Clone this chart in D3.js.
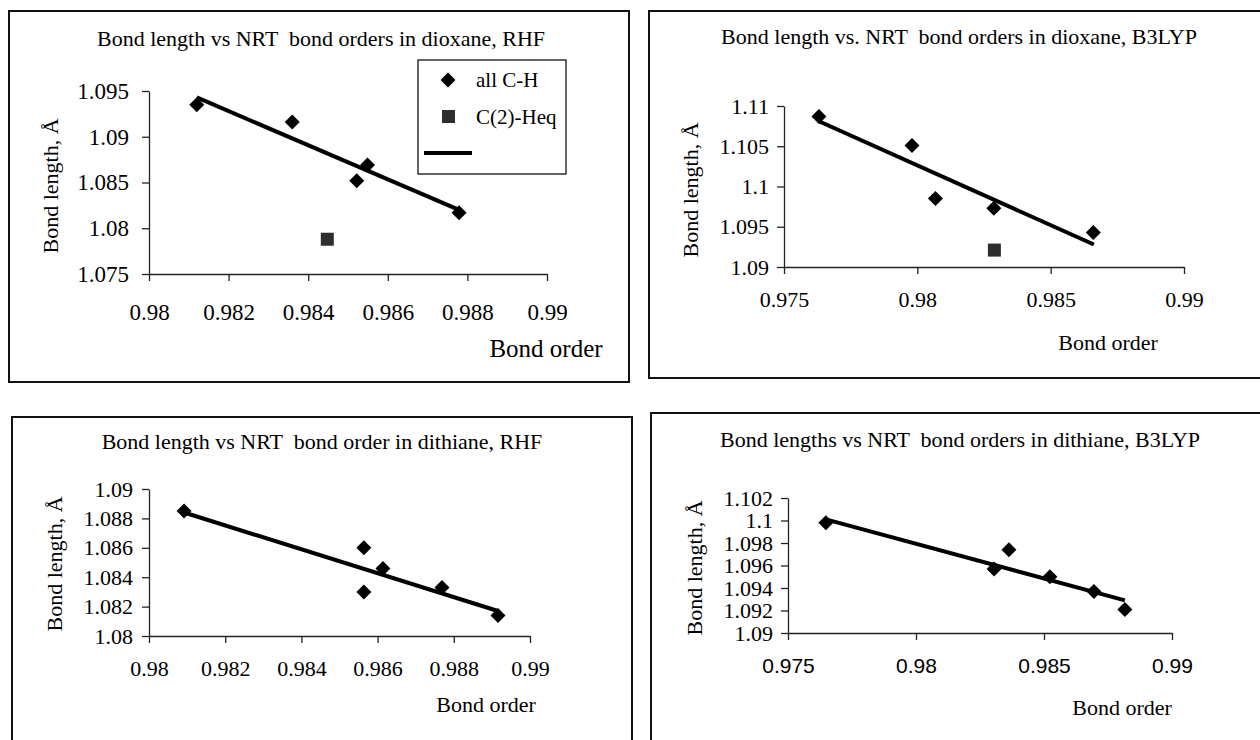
<!DOCTYPE html>
<html lang="en">
<head>
<meta charset="UTF-8">
<title>Bond length vs NRT bond orders</title>
<script src="https://cdn.jsdelivr.net/npm/d3@7"></script>
<style>
  body { margin: 0; background: #fff; }
  svg text { font-family: "Liberation Serif", "Times New Roman", serif; fill: #000; }
  .axis path, .axis line { stroke: #222; stroke-width: 1.3px; }
  .frame { fill: none; stroke: #111; stroke-width: 2px; }
</style>
</head>
<body>
<svg id="chart" width="1260" height="740"></svg>
<script>
// dioxane, RHF
const dioxRhfX = [0.98120, 0.98360, 0.98522, 0.98549, 0.98779];
const dioxRhfY = [1.0935, 1.0916, 1.0852, 1.0869, 1.0817];
const dioxRhfEqX = [0.98448];
const dioxRhfEqY = [1.0788];
const dioxRhfFitX = [0.98120, 0.98779];
const dioxRhfFitY = [1.0943, 1.0820];
const dioxRhfXTicks = [0.98, 0.982, 0.984, 0.986, 0.988, 0.99];
const dioxRhfYTicks = [1.075, 1.08, 1.085, 1.09, 1.095];

// dioxane, B3LYP
const dioxB3X = [0.97631, 0.97980, 0.98068, 0.98287, 0.98660];
const dioxB3Y = [1.1087, 1.1051, 1.0985, 1.0973, 1.0943];
const dioxB3EqX = [0.98289];
const dioxB3EqY = [1.0921];
const dioxB3FitX = [0.97631, 0.98662];
const dioxB3FitY = [1.1081, 1.0928];
const dioxB3XTicks = [0.975, 0.98, 0.985, 0.99];
const dioxB3YTicks = [1.09, 1.095, 1.1, 1.105, 1.11];

// dithiane, RHF
const dithRhfX = [0.98092, 0.98564, 0.98564, 0.98614, 0.98769, 0.98916];
const dithRhfY = [1.0885, 1.0860, 1.0830, 1.0846, 1.0833, 1.0814];
const dithRhfFitX = [0.98092, 0.98916];
const dithRhfFitY = [1.0884, 1.0817];
const dithRhfXTicks = [0.98, 0.982, 0.984, 0.986, 0.988, 0.99];
const dithRhfYTicks = [1.08, 1.082, 1.084, 1.086, 1.088, 1.09];

// dithiane, B3LYP
const dithB3X = [0.97648, 0.98305, 0.98363, 0.98523, 0.98695, 0.98816];
const dithB3Y = [1.0998, 1.0957, 1.0974, 1.0950, 1.0937, 1.0921];
const dithB3FitX = [0.97648, 0.98816];
const dithB3FitY = [1.1001, 1.0929];
const dithB3XTicks = [0.975, 0.98, 0.985, 0.99];
const dithB3YTicks = [1.09, 1.092, 1.094, 1.096, 1.098, 1.1, 1.102];

const serif = "Liberation Serif";
const sans = "Liberation Sans";

const svg = d3.select("#chart");

const diamond = r => `M0,${-r}L${r},0L0,${r}L${-r},0Z`;

const panels = [
  {
    title: "Bond length vs NRT  bond orders in dioxane, RHF", titleX: 321, titleY: 46,
    frame: [9, 11, 629, 382],
    left: 149, right: 547, top: 91, bottom: 274,
    xDomain: [0.98, 0.99], yDomain: [1.075, 1.095],
    xTicks: dioxRhfXTicks, yTicks: dioxRhfYTicks,
    xs: dioxRhfX, ys: dioxRhfY, sqX: dioxRhfEqX, sqY: dioxRhfEqY,
    fitX: dioxRhfFitX, fitY: dioxRhfFitY,
    yPad: 13, xLabelDrop: 46, tickFont: 23,
    xTitle: [546, 357, 25], yTitle: [58, 186],
    legend: true
  },
  {
    title: "Bond length vs. NRT  bond orders in dioxane, B3LYP", titleX: 959, titleY: 44,
    frame: [649, 11, 1272, 378],
    left: 784, right: 1184, top: 106, bottom: 267,
    xDomain: [0.975, 0.99], yDomain: [1.09, 1.11],
    xTicks: dioxB3XTicks, yTicks: dioxB3YTicks,
    xs: dioxB3X, ys: dioxB3Y, sqX: dioxB3EqX, sqY: dioxB3EqY,
    fitX: dioxB3FitX, fitY: dioxB3FitY,
    yPad: 8, xLabelDrop: 40, tickFont: 22,
    xTitle: [1108, 350, 22], yTitle: [698, 190]
  },
  {
    title: "Bond length vs NRT  bond order in dithiane, RHF", titleX: 322, titleY: 449,
    frame: [12, 417, 632, 760],
    left: 149, right: 530, top: 489, bottom: 636,
    xDomain: [0.98, 0.99], yDomain: [1.08, 1.09],
    xTicks: dithRhfXTicks, yTicks: dithRhfYTicks,
    xs: dithRhfX, ys: dithRhfY, sqX: [], sqY: [],
    fitX: dithRhfFitX, fitY: dithRhfFitY,
    yPad: 9, xLabelDrop: 40, tickFont: 22,
    xTitle: [486, 712, 22], yTitle: [62, 564]
  },
  {
    title: "Bond lengths vs NRT  bond orders in dithiane, B3LYP", titleX: 960, titleY: 447,
    frame: [651, 413, 1272, 760],
    left: 788, right: 1172, top: 498, bottom: 633,
    xDomain: [0.975, 0.99], yDomain: [1.09, 1.102],
    xTicks: dithB3XTicks, yTicks: dithB3YTicks,
    xs: dithB3X, ys: dithB3Y, sqX: [], sqY: [],
    fitX: dithB3FitX, fitY: dithB3FitY,
    yPad: 8, xLabelDrop: 40, tickFont: 22, xSans: true,
    xTitle: [1122, 715, 22], yTitle: [702, 568]
  }
];

panels.forEach(p => {
  const g = svg.append("g");
  const [fx0, fy0, fx1, fy1] = p.frame;
  g.append("rect").attr("class", "frame")
    .attr("x", fx0).attr("y", fy0).attr("width", fx1 - fx0).attr("height", fy1 - fy0);

  g.append("text").attr("x", p.titleX).attr("y", p.titleY)
    .attr("text-anchor", "middle").attr("font-family", serif).style("font-size", "22px")
    .style("white-space", "pre").text(p.title);

  const x = d3.scaleLinear().domain(p.xDomain).range([p.left, p.right]);
  const y = d3.scaleLinear().domain(p.yDomain).range([p.bottom, p.top]);

  const yAxis = g.append("g").attr("class", "axis")
    .attr("transform", `translate(${p.left},0)`)
    .call(d3.axisLeft(y).tickValues(p.yTicks).tickSize(7).tickSizeOuter(0)
      .tickPadding(p.yPad).tickFormat(d => String(d)))
    .attr("font-family", serif).attr("font-size", p.tickFont);
  yAxis.selectAll("text").style("font-family", serif)
    .style("font-size", p.tickFont + "px").attr("fill", "#000");

  const xFont = p.xSans ? sans : serif;
  const xAxis = g.append("g").attr("class", "axis")
    .attr("transform", `translate(0,${p.bottom})`)
    .call(d3.axisBottom(x).tickValues(p.xTicks).tickSize(7).tickSizeOuter(0)
      .tickFormat(d => String(d)))
    .attr("font-family", xFont).attr("font-size", p.xSans ? 21 : p.tickFont);
  xAxis.selectAll("text")
    .attr("y", p.xLabelDrop).attr("dy", null)
    .style("font-size", (p.xSans ? 21 : p.tickFont) + "px")
    .style("font-family", xFont)
    .attr("fill", "#000");

  // axis titles
  g.append("text").attr("x", p.xTitle[0]).attr("y", p.xTitle[1])
    .attr("text-anchor", "middle").attr("font-family", serif)
    .style("font-size", p.xTitle[2] + "px").text("Bond order");
  g.append("text")
    .attr("transform", `translate(${p.yTitle[0]},${p.yTitle[1]}) rotate(-90)`)
    .attr("text-anchor", "middle").attr("font-family", serif)
    .style("font-size", "22px").text("Bond length, Å");

  // trend line
  g.append("path")
    .datum(d3.zip(p.fitX, p.fitY))
    .attr("fill", "none").attr("stroke", "#000").attr("stroke-width", 4)
    .attr("d", d3.line().x(d => x(d[0])).y(d => y(d[1])));

  // diamonds
  g.selectAll(".pt").data(d3.zip(p.xs, p.ys)).join("path")
    .attr("class", "pt")
    .attr("transform", d => `translate(${x(d[0])},${y(d[1])})`)
    .attr("d", diamond(7.5)).attr("fill", "#000");

  // squares
  g.selectAll(".sq").data(d3.zip(p.sqX, p.sqY)).join("rect")
    .attr("class", "sq")
    .attr("x", d => x(d[0]) - 6.5).attr("y", d => y(d[1]) - 6.5)
    .attr("width", 13).attr("height", 13).attr("fill", "#2e2e2e");

  if (p.legend) {
    const lg = g.append("g");
    lg.append("rect").attr("x", 418).attr("y", 60).attr("width", 148).attr("height", 114)
      .attr("fill", "#fff").attr("stroke", "#111").attr("stroke-width", 1.3);
    lg.append("path").attr("transform", "translate(448,80)").attr("d", diamond(7.5)).attr("fill", "#000");
    lg.append("text").attr("x", 476).attr("y", 87).attr("font-family", serif)
      .style("font-size", "21px").text("all C-H");
    lg.append("rect").attr("x", 442).attr("y", 110).attr("width", 13).attr("height", 13).attr("fill", "#2e2e2e");
    lg.append("text").attr("x", 476).attr("y", 124).attr("font-family", serif)
      .style("font-size", "21px").text("C(2)-Heq");
    lg.append("line").attr("x1", 424).attr("x2", 472).attr("y1", 153).attr("y2", 153)
      .attr("stroke", "#000").attr("stroke-width", 4);
  }
});
</script>
</body>
</html>
